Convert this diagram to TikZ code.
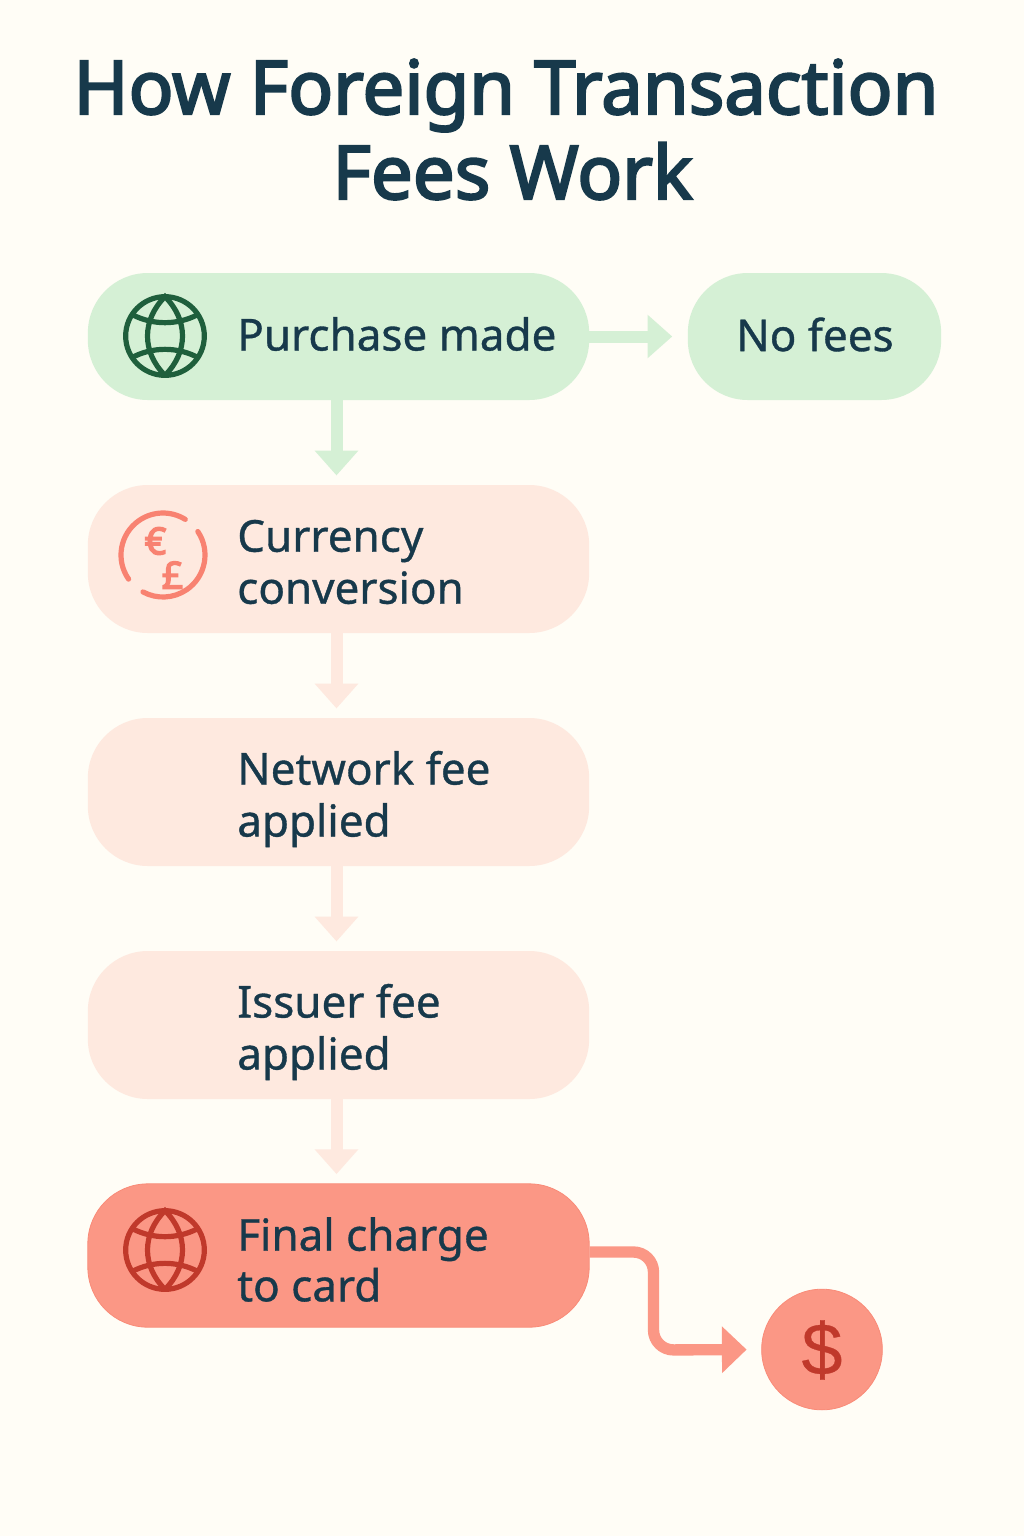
\documentclass[tikz,border=0pt]{standalone}
\usepackage{fontspec}
\setmainfont[FakeBold=0.8]{Noto Sans}
\newfontfamily\titlefont[FakeBold=3]{Noto Sans}
\newfontfamily\symfont[FakeBold=0.4]{Liberation Sans}
\newfontfamily\curfont[FakeBold=4]{Noto Sans}
\usetikzlibrary{arrows.meta}
\definecolor{bgc}{HTML}{FFFDF6}
\definecolor{greenf}{HTML}{D5F0D5}
\definecolor{peachf}{HTML}{FEE9DF}
\definecolor{redf}{HTML}{FB9785}
\definecolor{redl}{HTML}{F98B78}
\definecolor{ink}{HTML}{17394B}
\definecolor{globeg}{HTML}{1F5F3C}
\definecolor{glober}{HTML}{C0392B}
\definecolor{icono}{HTML}{F88271}
\tikzset{
  x=0.75pt,y=-0.75pt,
  box/.style={rectangle,rounded corners=45pt,inner sep=0pt,minimum width=376pt},
  greenbox/.style={box,fill=greenf},
  peachbox/.style={box,fill=peachf},
  redbox/.style={box,fill=redf,draw=redl,line width=0.6pt},
  label/.style={anchor=west,text=ink,align=left,inner sep=0pt,font=\fontsize{33}{39}\selectfont},
  titletext/.style={anchor=base,text=ink,inner sep=0pt,font=\titlefont\fontsize{55.7}{64}\selectfont},
  conn/.style={line width=9pt,-{Triangle[length=18.5pt,width=31.5pt]},shorten >=7pt},
  cursym/.style={text=icono,inner sep=0pt,font=\curfont\fontsize{28}{28}\selectfont},
  globe/.style={line width=3.9pt},
  pics/globeicon/.style={code={
    \draw[globe,#1] (0pt,0pt) circle[radius=29.5pt];
    \draw[globe,#1] (0pt,-29.5pt) .. controls (17.5pt,-12pt) and (17.5pt,12pt) .. (0pt,29.5pt)
       .. controls (-17.5pt,12pt) and (-17.5pt,-12pt) .. (0pt,-29.5pt);
    \draw[globe,#1] (-24.5pt,-16pt) .. controls (-9pt,-8pt) and (9pt,-8pt) .. (24.5pt,-16pt);
    \draw[globe,#1] (-24.5pt,16pt) .. controls (-9pt,8pt) and (9pt,8pt) .. (24.5pt,16pt);
  }}
}
\begin{document}
\begin{tikzpicture}
\useasboundingbox (0,0) rectangle (1024,1536);
\fill[bgc] (0,0) rectangle (1024,1536);
\node[titletext] (title1) at (506,114) {How Foreign Transaction};
\node[titletext] (title2) at (512.5,199) {Fees Work};

\node[greenbox,minimum height=95.25pt] (purchase) at (338.5,336.5) {};
\node[greenbox,minimum width=190pt,minimum height=95.25pt] (nofees) at (814.5,336.5) {};
\node[peachbox,minimum height=111pt] (currency) at (338.5,559) {};
\node[peachbox,minimum height=111pt] (network) at (338.5,792) {};
\node[peachbox,minimum height=111pt] (issuer) at (338.5,1025) {};
\node[redbox,minimum height=107.5pt] (final) at (338.5,1255.5) {};
\node[circle,fill=redf,draw=redl,line width=0.6pt,minimum size=90.5pt,inner sep=0pt] (dollar) at (822,1349.5) {};

\node[label] (t1) at (237,334) {Purchase made};
\node[label,anchor=center] (t2) at (815,334.5) {No fees};
\node[label] (t3) at (237,562) {Currency\\conversion};
\node[label] (t4) at (237,799) {Network fee\\applied};
\node[label] (t5) at (237,1032) {Issuer fee\\applied};
\node[label,font=\fontsize{33}{38}\selectfont] (t6) at (237,1259.5) {Final charge\\to card};
\node[text=glober,inner sep=0pt,font=\symfont\fontsize{55}{55}\selectfont] (sym) at (822,1350) {\$};

\draw[conn,greenf,shorten >=11.5pt] (purchase.east) -- (nofees.west);
\draw[conn,greenf] ([xshift=-1.5pt]purchase.south) -- ([xshift=-1.5pt]currency.north);
\draw[conn,peachf] ([xshift=-1.5pt]currency.south) -- ([xshift=-1.5pt]network.north);
\draw[conn,peachf] ([xshift=-1.5pt]network.south) -- ([xshift=-1.5pt]issuer.north);
\draw[conn,peachf] ([xshift=-1.5pt]issuer.south) -- ([xshift=-1.5pt]final.north);
\coordinate (bendtop) at (653.5,1252);
\coordinate (bendbot) at (653.5,1350);
\draw[line width=8.5pt,redf,rounded corners=15pt,-{Triangle[length=18.5pt,width=34pt]},shorten >=11pt]
  (final.east |- bendtop) -- (bendtop) -- (bendbot) -- (dollar.west);

\pic at (165,336) {globeicon=globeg};
\pic at (165,1250) {globeicon=glober};

\coordinate (cc) at (163,555);
\draw[icono,line width=3.9pt,line cap=round] (cc) ++(215:31.5pt) arc[start angle=215,end angle=58,radius=31.5pt];
\draw[icono,line width=3.9pt,line cap=round] (cc) ++(34:31.5pt) arc[start angle=34,end angle=-118.5,radius=31.5pt];
\node[cursym] (euro) at (155.5,541) {€};
\node[cursym] (pound) at (172.5,575) {£};
\end{tikzpicture}
\end{document}
